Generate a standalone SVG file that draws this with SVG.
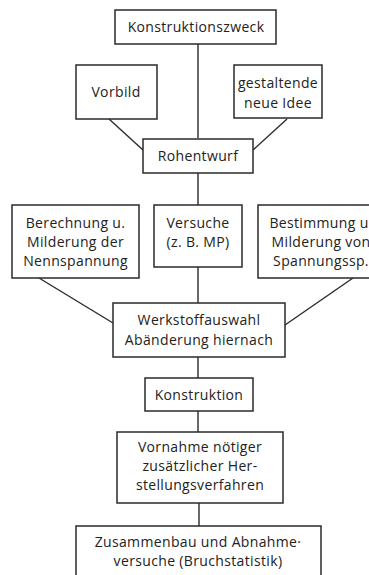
<svg xmlns="http://www.w3.org/2000/svg" width="369" height="575" viewBox="0 0 369 575">
<style>
.box{fill:#fff;stroke:#2a2a2a;stroke-width:1.5}
.t{font-family:"Open Sans","Liberation Sans",sans-serif;font-size:14px;letter-spacing:0.35px;fill:#222;text-anchor:middle}
.c{stroke:#2a2a2a;stroke-width:1.4;fill:none}
</style>
<rect width="369" height="575" fill="#fff"/>
<g id="connectors">
<line class="c" x1="198" y1="44" x2="198" y2="138"/>
<line class="c" x1="109" y1="119" x2="143" y2="150"/>
<line class="c" x1="287" y1="119" x2="253" y2="150"/>
<line class="c" x1="198" y1="173" x2="198" y2="205"/>
<line class="c" x1="198" y1="267" x2="198" y2="303"/>
<line class="c" x1="39" y1="278" x2="113" y2="323"/>
<line class="c" x1="353" y1="278" x2="285" y2="325"/>
<line class="c" x1="198" y1="357" x2="198" y2="378"/>
<line class="c" x1="198" y1="411" x2="198" y2="432"/>
<line class="c" x1="199" y1="503" x2="199" y2="526"/>
</g>
<g id="konstruktionszweck">
<rect class="box" x="115" y="10" width="161" height="34"/>
<text class="t" x="196" y="32">Konstruktionszweck</text>
</g>
<g id="vorbild">
<rect class="box" x="76" y="65" width="81" height="54"/>
<text class="t" x="116" y="97">Vorbild</text>
</g>
<g id="idee">
<rect class="box" x="234" y="65" width="88" height="53"/>
<text class="t" x="278" y="88">gestaltende</text>
<text class="t" x="278" y="108">neue Idee</text>
</g>
<g id="rohentwurf">
<rect class="box" x="143" y="139" width="110" height="34"/>
<text class="t" x="198" y="161">Rohentwurf</text>
</g>
<g id="berechnung">
<rect class="box" x="12" y="205" width="127" height="73"/>
<text class="t" x="75.5" y="228">Berechnung u.</text>
<text class="t" x="75.5" y="247">Milderung der</text>
<text class="t" x="75.5" y="266">Nennspannung</text>
</g>
<g id="versuche">
<rect class="box" x="154" y="205" width="88" height="62"/>
<text class="t" x="198" y="228">Versuche</text>
<text class="t" x="198" y="247">(z. B. MP)</text>
</g>
<g id="bestimmung">
<rect class="box" x="258" y="205" width="127" height="73"/>
<text class="t" x="321" y="228">Bestimmung u.</text>
<text class="t" x="321" y="247">Milderung von</text>
<text class="t" x="321" y="266">Spannungssp.</text>
</g>
<g id="werkstoffauswahl">
<rect class="box" x="113" y="303" width="172" height="54"/>
<text class="t" x="199" y="325">Werkstoffauswahl</text>
<text class="t" x="199" y="345">Abänderung hiernach</text>
</g>
<g id="konstruktion">
<rect class="box" x="145" y="378" width="108" height="33"/>
<text class="t" x="199" y="400">Konstruktion</text>
</g>
<g id="vornahme">
<rect class="box" x="117" y="432" width="166" height="71"/>
<text class="t" x="200" y="452">Vornahme nötiger</text>
<text class="t" x="200" y="471">zusätzlicher Her-</text>
<text class="t" x="200" y="490">stellungsverfahren</text>
</g>
<g id="zusammenbau">
<rect class="box" x="76" y="526" width="245" height="60"/>
<text class="t" x="198" y="547">Zusammenbau und Abnahme·</text>
<text class="t" x="198" y="566">versuche (Bruchstatistik)</text>
</g>
</svg>
